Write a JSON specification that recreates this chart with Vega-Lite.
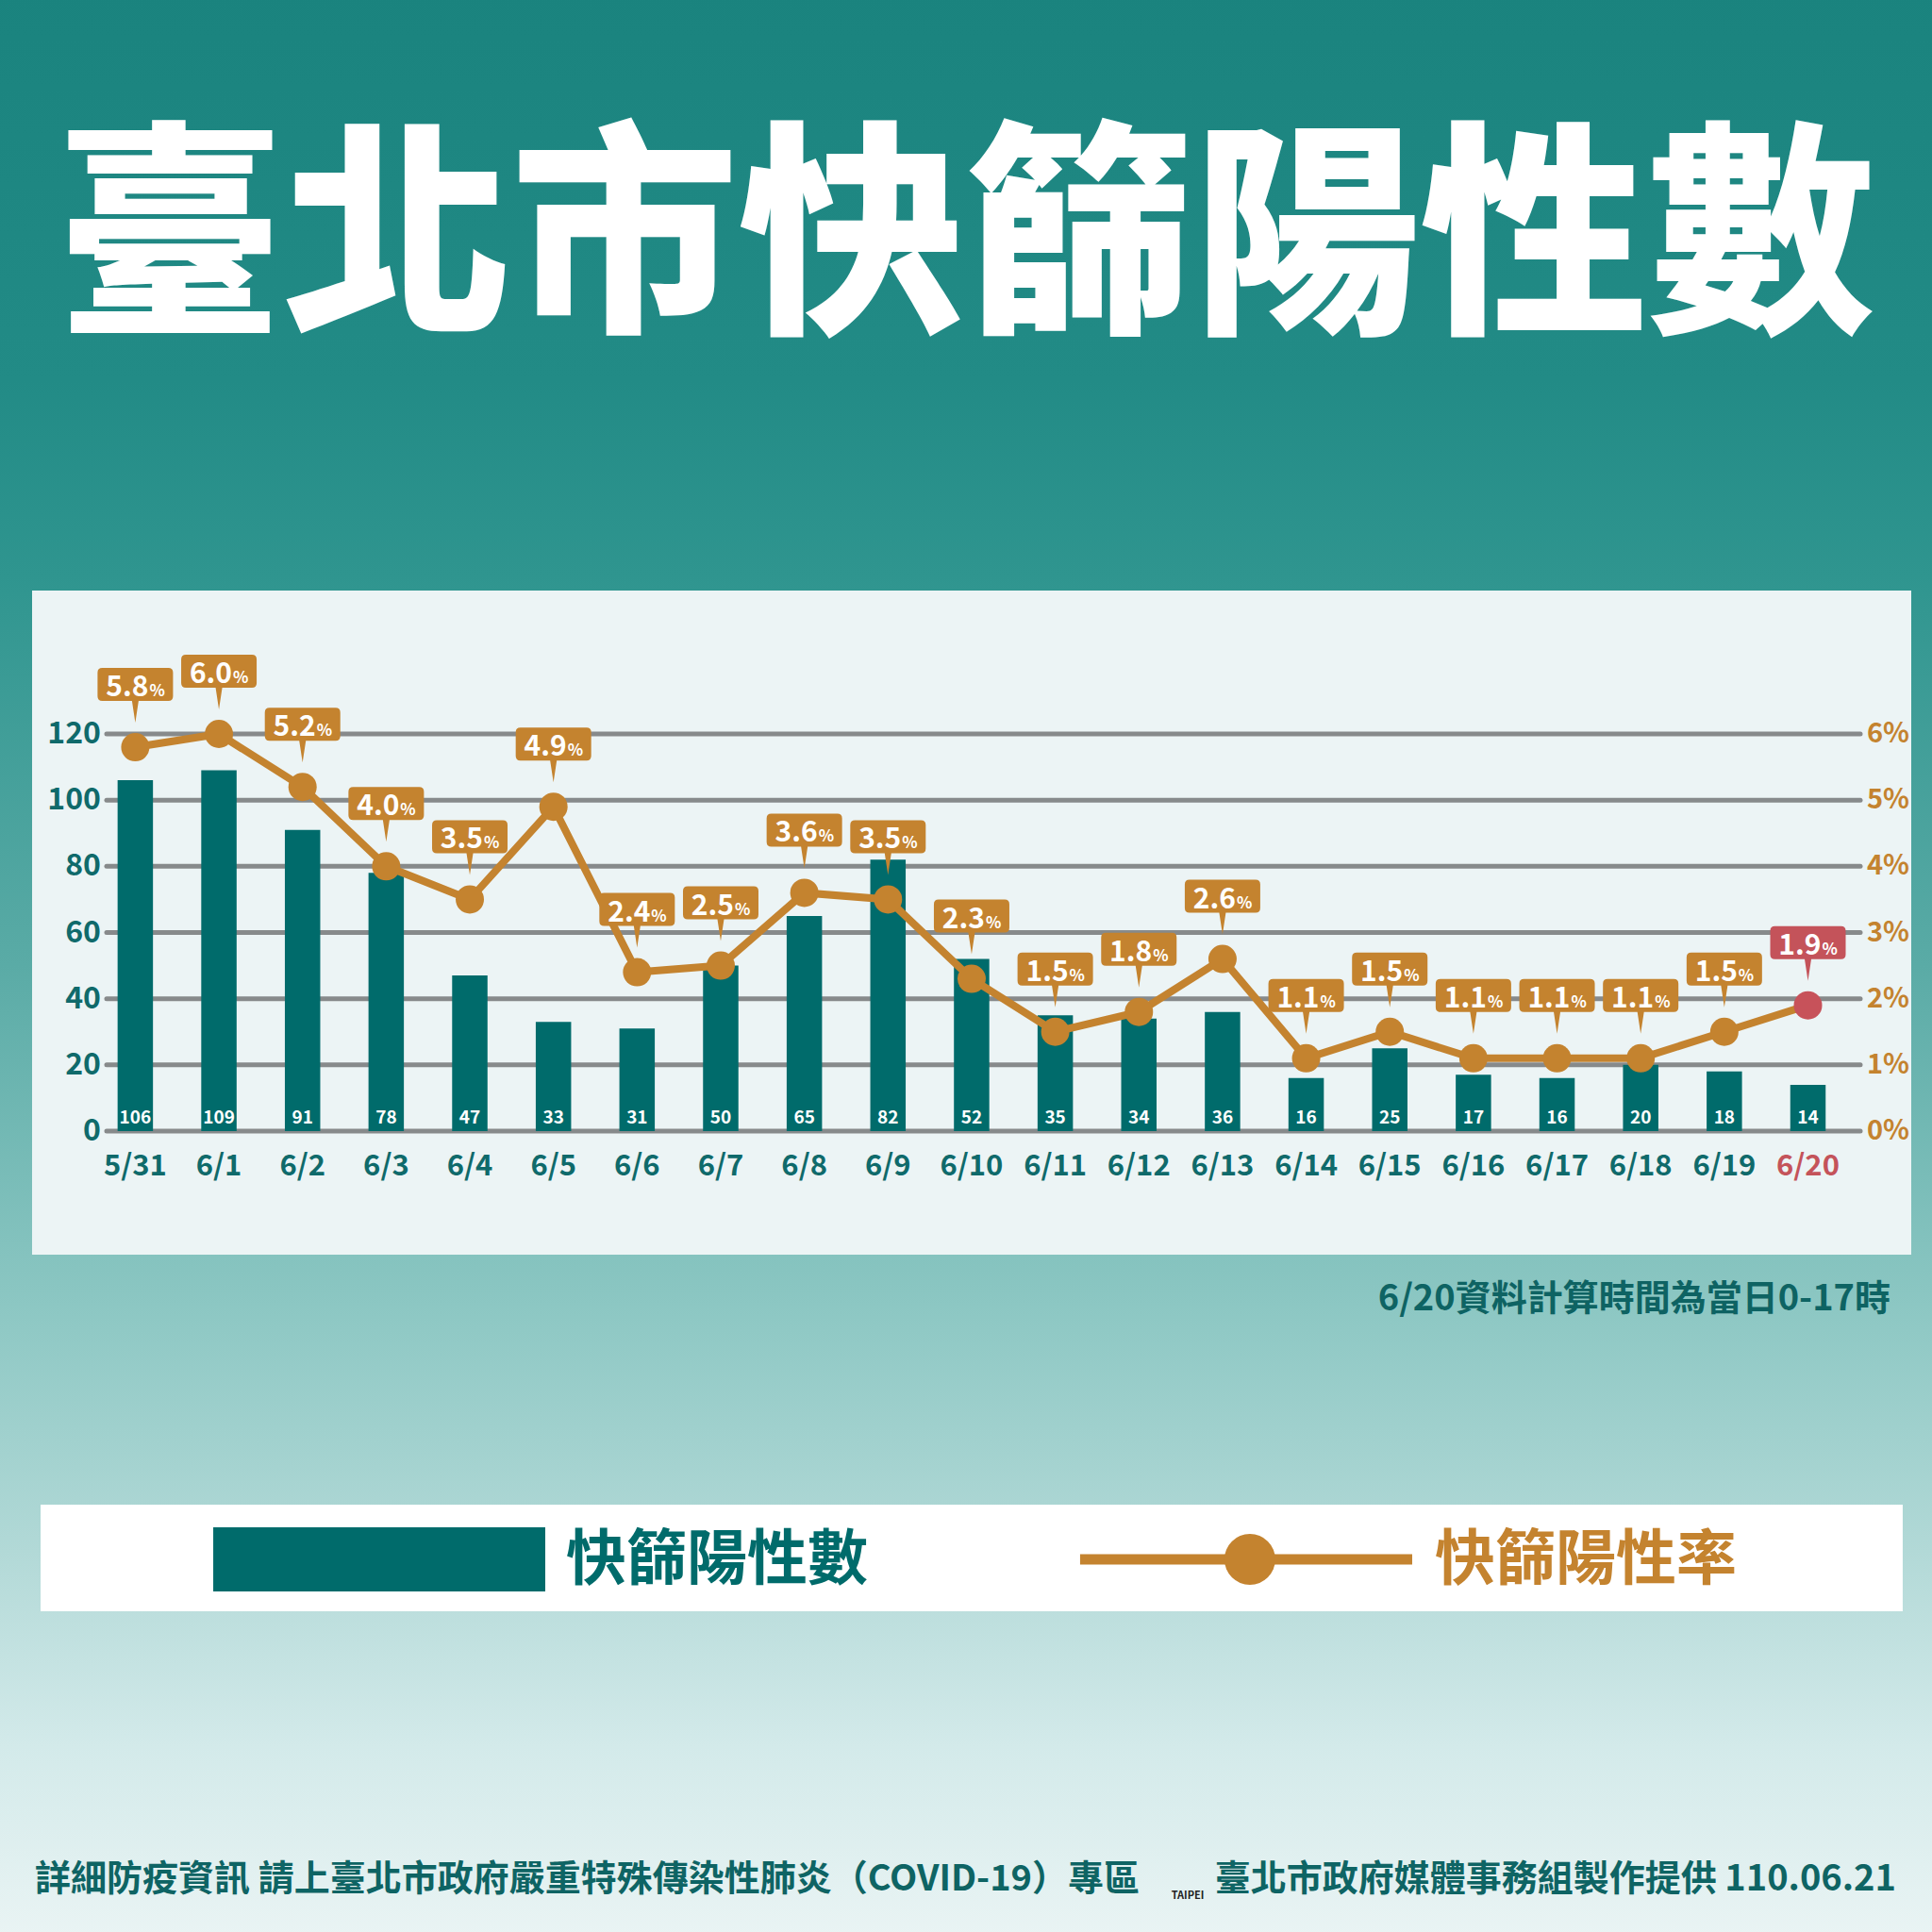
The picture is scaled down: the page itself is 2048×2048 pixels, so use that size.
{
  "$schema": "https://vega.github.io/schema/vega-lite/v6.json",
  "width": 1859,
  "height": 421,
  "autosize": {"type": "none"},
  "padding": {"left": 113, "top": 778, "right": 76, "bottom": 849},
  "background": "#8cc5c1",
  "config": {
    "view": {"stroke": null},
    "font": "Noto Sans CJK TC",
    "text": {"font": "Noto Sans CJK TC"}
  },
  "datasets": {
    "main": [
      {"d": 0, "date": "5/31", "count": 106, "pct": 5.8},
      {"d": 1, "date": "6/1", "count": 109, "pct": 6.0},
      {"d": 2, "date": "6/2", "count": 91, "pct": 5.2},
      {"d": 3, "date": "6/3", "count": 78, "pct": 4.0},
      {"d": 4, "date": "6/4", "count": 47, "pct": 3.5},
      {"d": 5, "date": "6/5", "count": 33, "pct": 4.9},
      {"d": 6, "date": "6/6", "count": 31, "pct": 2.4},
      {"d": 7, "date": "6/7", "count": 50, "pct": 2.5},
      {"d": 8, "date": "6/8", "count": 65, "pct": 3.6},
      {"d": 9, "date": "6/9", "count": 82, "pct": 3.5},
      {"d": 10, "date": "6/10", "count": 52, "pct": 2.3},
      {"d": 11, "date": "6/11", "count": 35, "pct": 1.5},
      {"d": 12, "date": "6/12", "count": 34, "pct": 1.8},
      {"d": 13, "date": "6/13", "count": 36, "pct": 2.6},
      {"d": 14, "date": "6/14", "count": 16, "pct": 1.1},
      {"d": 15, "date": "6/15", "count": 25, "pct": 1.5},
      {"d": 16, "date": "6/16", "count": 17, "pct": 1.1},
      {"d": 17, "date": "6/17", "count": 16, "pct": 1.1},
      {"d": 18, "date": "6/18", "count": 20, "pct": 1.1},
      {"d": 19, "date": "6/19", "count": 18, "pct": 1.5},
      {"d": 20, "date": "6/20", "count": 14, "pct": 1.9}
    ],
    "grid": [
      {"v": 0, "pl": "0%"}, {"v": 20, "pl": "1%"}, {"v": 40, "pl": "2%"}, {"v": 60, "pl": "3%"},
      {"v": 80, "pl": "4%"}, {"v": 100, "pl": "5%"}, {"v": 120, "pl": "6%"}
    ]
  },
  "resolve": {"scale": {"y": "independent"}},
  "layer": [
    {
      "layer": [
        {
          "data": {"values": [{}]},
          "mark": {"type": "rect", "fill": {"gradient": "linear", "x1": 0, "y1": 0, "x2": 0, "y2": 1, "stops": [
            {"offset": 0, "color": "#1a837e"},
            {"offset": 0.2, "color": "#228b86"},
            {"offset": 0.3, "color": "#2f958f"},
            {"offset": 0.5, "color": "#5aaba6"},
            {"offset": 0.68, "color": "#8ec8c4"},
            {"offset": 0.8, "color": "#b2d9d7"},
            {"offset": 0.9, "color": "#d3eaea"},
            {"offset": 1, "color": "#eaf4f4"}]}},
          "encoding": {
            "x": {"datum": -1.7, "axis": null},
            "x2": {"datum": 21.6},
            "y": {"datum": 345, "axis": null},
            "y2": {"datum": -245}
          }
        },
        {
          "data": {"values": [{}]},
          "mark": {"type": "text", "fill": "#ffffff", "fontSize": 241, "fontWeight": 900, "align": "center", "baseline": "middle"},
          "encoding": {"x": {"datum": 9.927, "axis": null}, "y": {"datum": 267.2, "axis": null}, "text": {"value": "臺北市快篩陽性數"}}
        },
        {
          "data": {"values": [{}]},
          "mark": {"type": "rect", "fill": "#ecf4f5"},
          "encoding": {"x": {"datum": -1.234, "axis": null}, "x2": {"datum": 21.235}, "y": {"datum": 163.3, "axis": null}, "y2": {"datum": -37.34}}
        },
        {
          "data": {"name": "grid"},
          "mark": {"type": "rule", "color": "#878a8b", "strokeWidth": 5, "strokeCap": "round"},
          "encoding": {"x": {"value": 0}, "x2": {"value": "width"}, "y": {"field": "v", "type": "quantitative", "axis": null}}
        },
        {
          "data": {"name": "grid"},
          "mark": {"type": "text", "fill": "#0f6a6b", "fontSize": 32, "fontWeight": "bold", "align": "right", "baseline": "middle", "dx": -6},
          "encoding": {"x": {"value": 0}, "y": {"field": "v", "type": "quantitative", "axis": null}, "text": {"field": "v", "type": "quantitative"}}
        },
        {
          "data": {"name": "grid"},
          "mark": {"type": "text", "fill": "#c4832f", "fontSize": 29, "fontWeight": "bold", "align": "left", "baseline": "middle", "dx": 7},
          "encoding": {"x": {"value": "width"}, "y": {"field": "v", "type": "quantitative", "axis": null}, "text": {"field": "pl", "type": "nominal"}}
        },
        {
          "data": {"name": "main"},
          "mark": {"type": "bar", "width": 37.5, "color": "#006b6b"},
          "encoding": {
            "x": {"field": "d", "type": "quantitative", "scale": {"domain": [-0.343, 20.626], "nice": false, "zero": false, "padding": 0}, "axis": null},
            "y": {"field": "count", "type": "quantitative", "scale": {"domain": [0, 120], "nice": false, "zero": false}, "axis": null}
          }
        },
        {
          "data": {"name": "main"},
          "mark": {"type": "text", "fill": "#ffffff", "fontSize": 19, "fontWeight": "bold", "align": "center", "baseline": "alphabetic", "dy": -8},
          "encoding": {"x": {"field": "d", "type": "quantitative", "axis": null}, "y": {"datum": 0, "axis": null}, "text": {"field": "count", "type": "quantitative"}}
        },
        {
          "data": {"name": "main"},
          "mark": {"type": "text", "fontSize": 31, "fontWeight": "bold", "align": "center", "baseline": "alphabetic", "dy": 47},
          "encoding": {
            "x": {"field": "d", "type": "quantitative", "axis": null},
            "y": {"datum": 0, "axis": null},
            "text": {"field": "date", "type": "nominal"},
            "color": {"condition": {"test": "datum.date == '6/20'", "value": "#c4535a"}, "value": "#0f6a6b"}
          }
        },
        {
          "data": {"values": [{}]},
          "mark": {"type": "text", "fill": "#0e6363", "fontSize": 38, "fontWeight": "bold", "align": "right", "baseline": "middle"},
          "encoding": {"x": {"datum": 20.987, "axis": null}, "y": {"datum": -51, "axis": null}, "text": {"value": "6/20資料計算時間為當日0-17時"}}
        },
        {
          "data": {"values": [{}]},
          "mark": {"type": "rect", "fill": "#ffffff"},
          "encoding": {"x": {"datum": -1.1325, "axis": null}, "x2": {"datum": 21.133}, "y": {"datum": -112.9, "axis": null}, "y2": {"datum": -145.1}}
        },
        {
          "data": {"values": [{}]},
          "mark": {"type": "rect", "fill": "#006b6b"},
          "encoding": {"x": {"datum": 0.932, "axis": null}, "x2": {"datum": 4.902}, "y": {"datum": -119.7, "axis": null}, "y2": {"datum": -139.1}}
        },
        {
          "data": {"values": [{}]},
          "mark": {"type": "text", "fill": "#006b6b", "fontSize": 64, "fontWeight": "bold", "align": "left", "baseline": "middle"},
          "encoding": {"x": {"datum": 5.15, "axis": null}, "y": {"datum": -130, "axis": null}, "text": {"value": "快篩陽性數"}}
        },
        {
          "data": {"values": [{}]},
          "mark": {"type": "rule", "color": "#c4832f", "strokeWidth": 11},
          "encoding": {"x": {"datum": 11.297, "axis": null}, "x2": {"datum": 15.268}, "y": {"datum": -129.4, "axis": null}}
        },
        {
          "data": {"values": [{}]},
          "mark": {"type": "point", "filled": true, "shape": "circle", "size": 2916, "color": "#c4832f", "opacity": 1},
          "encoding": {"x": {"datum": 13.327, "axis": null}, "y": {"datum": -129.4, "axis": null}}
        },
        {
          "data": {"values": [{}]},
          "mark": {"type": "text", "fill": "#c4832f", "fontSize": 64, "fontWeight": "bold", "align": "left", "baseline": "middle"},
          "encoding": {"x": {"datum": 15.539, "axis": null}, "y": {"datum": -130, "axis": null}, "text": {"value": "快篩陽性率"}}
        },
        {
          "data": {"values": [{}]},
          "mark": {"type": "text", "fill": "#0e6464", "fontSize": 38, "fontWeight": "bold", "align": "left", "baseline": "middle"},
          "encoding": {"x": {"datum": -1.2, "axis": null}, "y": {"datum": -226.3, "axis": null}, "text": {"value": "詳細防疫資訊 請上臺北市政府嚴重特殊傳染性肺炎（COVID-19）專區"}}
        },
        {
          "data": {"values": [{}]},
          "mark": {"type": "text", "fill": "#0e6464", "fontSize": 38, "fontWeight": "bold", "align": "right", "baseline": "middle"},
          "encoding": {"x": {"datum": 21.054, "axis": null}, "y": {"datum": -226.3, "axis": null}, "text": {"value": "臺北市政府媒體事務組製作提供 110.06.21"}}
        },
        {
          "data": {"values": [{}]},
          "mark": {"type": "text", "fill": "#222222", "fontSize": 11, "fontWeight": "bold", "align": "center", "baseline": "middle"},
          "encoding": {"x": {"datum": 12.584, "axis": null}, "y": {"datum": -231.2, "axis": null}, "text": {"value": "TAIPEI"}}
        }
      ]
    },
    {
      "layer": [
        {
          "data": {"name": "main"},
          "mark": {"type": "line", "color": "#c4832f", "strokeWidth": 8},
          "encoding": {
            "x": {"field": "d", "type": "quantitative", "axis": null},
            "y": {"field": "pct", "type": "quantitative", "scale": {"domain": [0, 6], "nice": false, "zero": false}, "axis": null}
          }
        },
        {
          "data": {"name": "main"},
          "mark": {"type": "point", "filled": true, "shape": "circle", "size": 900, "opacity": 1},
          "encoding": {
            "x": {"field": "d", "type": "quantitative", "axis": null},
            "y": {"field": "pct", "type": "quantitative", "axis": null},
            "color": {"condition": {"test": "datum.date == '6/20'", "value": "#c7525a"}, "value": "#c4832f"}
          }
        },
        {
          "data": {"name": "main"},
          "mark": {"type": "point", "filled": true, "size": 400, "opacity": 1,
            "shape": "M-3.5,-8.4L3.5,-8.4Q4.0,-8.4,4.0,-7.9L4.0,-5.4Q4.0,-4.9,3.5,-4.9L0.35,-4.9L0,-2.6L-0.35,-4.9L-3.5,-4.9Q-4.0,-4.9,-4.0,-5.4L-4.0,-7.9Q-4.0,-8.4,-3.5,-8.4Z"},
          "encoding": {
            "x": {"field": "d", "type": "quantitative", "axis": null},
            "y": {"field": "pct", "type": "quantitative", "axis": null},
            "color": {"condition": {"test": "datum.date == '6/20'", "value": "#c4535a"}, "value": "#c4832f"}
          }
        },
        {
          "data": {"name": "main"},
          "mark": {"type": "text", "fill": "#ffffff", "fontSize": 30, "fontWeight": "bold", "align": "right", "baseline": "alphabetic", "dx": 14, "dy": -54},
          "encoding": {
            "x": {"field": "d", "type": "quantitative", "axis": null},
            "y": {"field": "pct", "type": "quantitative", "axis": null},
            "text": {"field": "pct", "type": "quantitative", "format": ".1f"}
          }
        },
        {
          "data": {"name": "main"},
          "mark": {"type": "text", "fill": "#ffffff", "fontSize": 17, "fontWeight": "bold", "align": "left", "baseline": "alphabetic", "dx": 15, "dy": -54},
          "encoding": {
            "x": {"field": "d", "type": "quantitative", "axis": null},
            "y": {"field": "pct", "type": "quantitative", "axis": null},
            "text": {"value": "%"}
          }
        }
      ]
    }
  ]
}
